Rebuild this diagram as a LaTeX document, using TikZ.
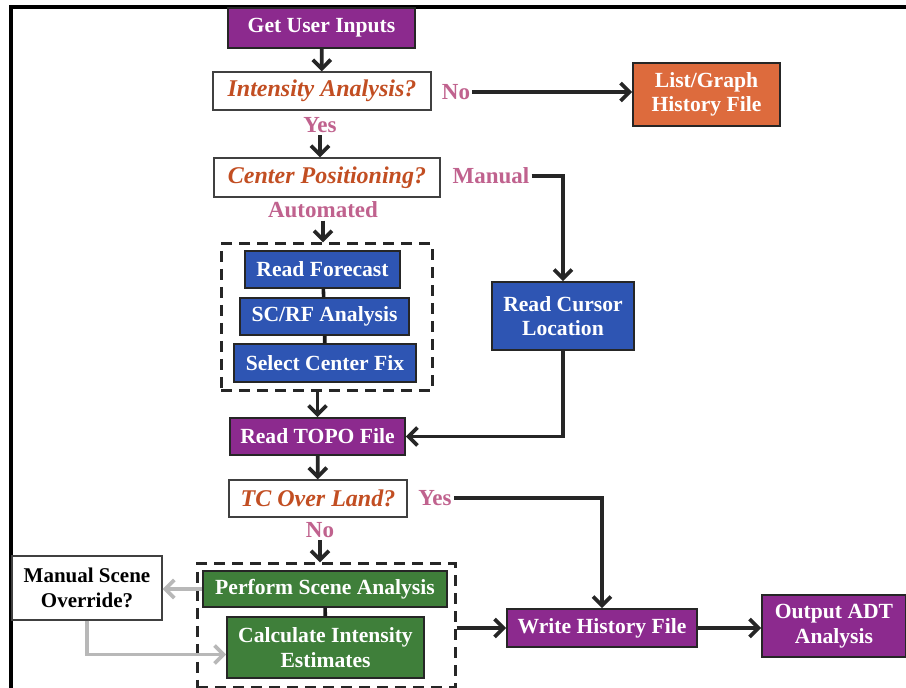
\documentclass[tikz,border=0pt]{standalone}
\usepackage{fontspec}
\setmainfont{Liberation Serif}
\usetikzlibrary{arrows.meta}

\definecolor{boxpurple}{HTML}{8C2A8E}
\definecolor{boxorange}{HTML}{DD6B3D}
\definecolor{boxblue}{HTML}{2E55B3}
\definecolor{boxgreen}{HTML}{3F7F3A}
\definecolor{askred}{HTML}{C24E22}
\definecolor{answerpink}{HTML}{C0628E}

\tikzset{
  box/.style={draw=black!85, line width=0.8pt, text=white, align=center, inner sep=2pt,
    font=\bfseries\fontsize{10.8}{12.3}\selectfont},
  purplebox/.style={box, fill=boxpurple},
  orangebox/.style={box, fill=boxorange},
  bluebox/.style={box, fill=boxblue},
  greenbox/.style={box, fill=boxgreen},
  askbox/.style={draw=black!75, line width=0.6pt, fill=white, text=askred, inner sep=2pt,
    font=\bfseries\itshape\fontsize{12}{14}\selectfont},
  answer/.style={text=answerpink, inner sep=1pt, font=\bfseries\fontsize{11.5}{13}\selectfont},
  group/.style={draw=black!85, line width=1.5pt, dash pattern=on 5.5pt off 3.5pt},
  flow/.style={draw=black!85, line width=1.9pt, -{Straight Barb[length=4.5pt,width=9pt]}},
  grayflow/.style={flow, draw=black!28},
  link/.style={draw=black!90, line width=1.8pt}
}

\begin{document}
\begin{tikzpicture}[x=0.5pt, y=-0.5pt]
\path[use as bounding box, fill=white] (0,0) rectangle (906,688);

% frame
\draw[line width=1.6pt] (11,688) -- (11,7) -- (906,7);

\node[purplebox, minimum width=93.5pt, minimum height=20pt] at (321.5,28) (inputs) {Get User Inputs};
\node[askbox, minimum width=109pt, minimum height=19pt] at (322,91) (intensity) {Intensity Analysis?};
\node[answer] at (456,92) (no1) {No};
\node[orangebox, minimum width=73.5pt, minimum height=31.5pt] at (706.5,94.5) (listgraph) {List/Graph\\History File};
\node[answer] at (320,125) (yes1) {Yes};
\node[askbox, minimum width=113pt, minimum height=19.5pt] at (327,177.5) (centerpos) {Center Positioning?};
\node[answer] at (491,176) (manual) {Manual};
\node[answer] at (323,210) (automated) {Automated};

% automated center fix
\node[group, minimum width=105.5pt, minimum height=73.5pt] at (326.5,317.5) (grp1) {};
\node[bluebox, minimum width=77.5pt, minimum height=18.5pt] at (322.5,269.5) (forecast) {Read Forecast};
\node[bluebox, minimum width=84.5pt, minimum height=18.5pt] at (324.5,316.5) (scrf) {SC/RF Analysis};
\node[bluebox, minimum width=91pt, minimum height=19pt] at (325,363) (fix) {Select Center Fix};
\node[bluebox, minimum width=71pt, minimum height=34pt] at (563,316) (cursor) {Read Cursor\\Location};

\node[purplebox, minimum width=87.5pt, minimum height=18.5pt] at (317.5,436.5) (topo) {Read TOPO File};
\node[askbox, minimum width=89pt, minimum height=18.5pt] at (318,498.5) (overland) {TC Over Land?};
\node[answer] at (435,498) (yes2) {Yes};
\node[answer] at (320,530) (no2) {No};

% scene analysis
\node[group, minimum width=129pt, minimum height=62pt] at (326,626) (grp2) {};
\node[greenbox, minimum width=122pt, minimum height=18pt] at (325,589) (perform) {Perform Scene Analysis};
\node[greenbox, minimum width=98.5pt, minimum height=30.5pt] at (325.5,647.5) (calc) {Calculate Intensity\\Estimates};
\node[draw=black!75, line width=0.6pt, fill=white, align=center, minimum width=75pt, minimum height=32pt,
  font=\bfseries\fontsize{10.5}{12.5}\selectfont] at (87,588) (override) {Manual Scene\\Override?};

\node[purplebox, minimum width=95pt, minimum height=19pt] at (602,628) (write) {Write History File};
\node[purplebox, minimum width=72pt, minimum height=31pt] at (834,626) (output) {Output ADT\\Analysis};

\draw[flow] (inputs) -- (intensity);
\draw[flow] (no1.east) -- (no1.east -| listgraph.west);
\draw[flow] (yes1.south) -- (yes1.south |- centerpos.north);
\draw[flow] (manual.east) -| (cursor.north);
\draw[flow] (automated.south) -- (automated.south |- grp1.north);
\draw[link] (forecast) -- (scrf);
\draw[link] (scrf) -- (fix);
\draw[flow] (topo.north |- grp1.south) -- (topo.north);
\draw[flow] (cursor.south) |- (topo.east);
\draw[flow] (topo) -- (overland);
\draw[flow] (yes2.east) -| (write.north);
\draw[flow] (no2.south) -- (no2.south |- grp2.north);
\draw[link] (perform) -- (calc);
\draw[grayflow] (perform.west) -- (perform.west -| override.east);
\draw[grayflow] (override.south) |- ([yshift=-3.5pt]calc.west);
\draw[flow] (grp2.east |- write.west) -- (write.west);
\draw[flow] (write.east) -- (write.east -| output.west);
\end{tikzpicture}
\end{document}
